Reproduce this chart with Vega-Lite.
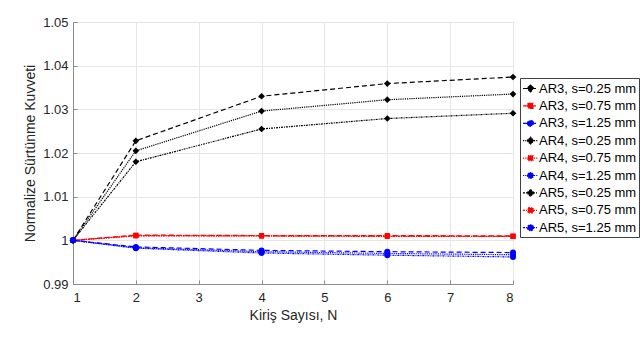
{
  "$schema": "https://vega.github.io/schema/vega-lite/v6.json",
  "width": 440,
  "height": 262,
  "autosize": "none",
  "padding": {"left": 73, "top": 22, "right": 131, "bottom": 54},
  "background": "white",
  "config": {
    "font": "Liberation Sans",
    "view": {"stroke": "#8c8c8c", "strokeWidth": 1},
    "axis": {
      "labelFont": "Liberation Sans",
      "labelFontSize": 13,
      "labelColor": "#262626",
      "titleFont": "Liberation Sans",
      "titleFontSize": 14,
      "titleFontWeight": "normal",
      "titleColor": "#262626",
      "domainColor": "#8c8c8c",
      "tickColor": "#8c8c8c",
      "gridColor": "#e6e6e6",
      "gridWidth": 1,
      "tickSize": -4
    }
  },
  "data": {
    "values": [
      {"series": "AR3, s=0.25 mm", "N": 1, "F": 1.0}, {"series": "AR3, s=0.25 mm", "N": 2, "F": 1.0228}, {"series": "AR3, s=0.25 mm", "N": 4, "F": 1.0330}, {"series": "AR3, s=0.25 mm", "N": 6, "F": 1.0359}, {"series": "AR3, s=0.25 mm", "N": 8, "F": 1.0374},
      {"series": "AR3, s=0.75 mm", "N": 1, "F": 1.0}, {"series": "AR3, s=0.75 mm", "N": 2, "F": 1.0012}, {"series": "AR3, s=0.75 mm", "N": 4, "F": 1.0011}, {"series": "AR3, s=0.75 mm", "N": 6, "F": 1.0011}, {"series": "AR3, s=0.75 mm", "N": 8, "F": 1.0010},
      {"series": "AR3, s=1.25 mm", "N": 1, "F": 1.0}, {"series": "AR3, s=1.25 mm", "N": 2, "F": 0.9985}, {"series": "AR3, s=1.25 mm", "N": 4, "F": 0.9977}, {"series": "AR3, s=1.25 mm", "N": 6, "F": 0.9974}, {"series": "AR3, s=1.25 mm", "N": 8, "F": 0.9972},
      {"series": "AR4, s=0.25 mm", "N": 1, "F": 1.0}, {"series": "AR4, s=0.25 mm", "N": 2, "F": 1.0205}, {"series": "AR4, s=0.25 mm", "N": 4, "F": 1.0296}, {"series": "AR4, s=0.25 mm", "N": 6, "F": 1.0322}, {"series": "AR4, s=0.25 mm", "N": 8, "F": 1.0335},
      {"series": "AR4, s=0.75 mm", "N": 1, "F": 1.0}, {"series": "AR4, s=0.75 mm", "N": 2, "F": 1.0011}, {"series": "AR4, s=0.75 mm", "N": 4, "F": 1.0010}, {"series": "AR4, s=0.75 mm", "N": 6, "F": 1.0010}, {"series": "AR4, s=0.75 mm", "N": 8, "F": 1.0009},
      {"series": "AR4, s=1.25 mm", "N": 1, "F": 1.0}, {"series": "AR4, s=1.25 mm", "N": 2, "F": 0.9983}, {"series": "AR4, s=1.25 mm", "N": 4, "F": 0.9974}, {"series": "AR4, s=1.25 mm", "N": 6, "F": 0.9970}, {"series": "AR4, s=1.25 mm", "N": 8, "F": 0.9967},
      {"series": "AR5, s=0.25 mm", "N": 1, "F": 1.0}, {"series": "AR5, s=0.25 mm", "N": 2, "F": 1.0180}, {"series": "AR5, s=0.25 mm", "N": 4, "F": 1.0255}, {"series": "AR5, s=0.25 mm", "N": 6, "F": 1.0279}, {"series": "AR5, s=0.25 mm", "N": 8, "F": 1.0291},
      {"series": "AR5, s=0.75 mm", "N": 1, "F": 1.0}, {"series": "AR5, s=0.75 mm", "N": 2, "F": 1.0010}, {"series": "AR5, s=0.75 mm", "N": 4, "F": 1.0010}, {"series": "AR5, s=0.75 mm", "N": 6, "F": 1.0009}, {"series": "AR5, s=0.75 mm", "N": 8, "F": 1.0009},
      {"series": "AR5, s=1.25 mm", "N": 1, "F": 1.0}, {"series": "AR5, s=1.25 mm", "N": 2, "F": 0.9982}, {"series": "AR5, s=1.25 mm", "N": 4, "F": 0.9971}, {"series": "AR5, s=1.25 mm", "N": 6, "F": 0.9966}, {"series": "AR5, s=1.25 mm", "N": 8, "F": 0.9962}
    ]
  },
  "encoding": {
    "x": {
      "field": "N", "type": "quantitative",
      "scale": {"domain": [1, 8], "nice": false, "zero": false},
      "axis": {"values": [1, 2, 3, 4, 5, 6, 7, 8], "title": "Kiriş Sayısı, N", "labelPadding": 11, "titlePadding": 4, "grid": true}
    },
    "y": {
      "field": "F", "type": "quantitative",
      "scale": {"domain": [0.99, 1.05], "nice": false, "zero": false},
      "axis": {"values": [0.99, 1.0, 1.01, 1.02, 1.03, 1.04, 1.05], "format": "~g", "title": "Normalize Sürtünme Kuvveti", "labelPadding": 9, "titlePadding": 5, "grid": true}
    },
    "color": {
      "field": "series", "type": "nominal",
      "scale": {
        "domain": ["AR3, s=0.25 mm", "AR3, s=0.75 mm", "AR3, s=1.25 mm", "AR4, s=0.25 mm", "AR4, s=0.75 mm", "AR4, s=1.25 mm", "AR5, s=0.25 mm", "AR5, s=0.75 mm", "AR5, s=1.25 mm"],
        "range": ["#000000", "#ff0000", "#0000ff", "#000000", "#ff0000", "#0000ff", "#000000", "#ff0000", "#0000ff"]
      },
      "legend": {
        "title": null,
        "orient": "none",
        "legendX": 447,
        "legendY": 56,
        "labelFont": "Liberation Sans",
        "labelFontSize": 13,
        "labelColor": "#000000",
        "symbolSize": 225,
        "symbolStrokeWidth": 1.2,
        "rowPadding": 1.4,
        "labelOffset": 0,
        "padding": 2,
        "strokeColor": "#404040",
        "fillColor": "white",
        "encode": {
          "symbols": {
            "update": {
              "shape": {"signal": "indexof(datum.value,'0.25')>=0 ? 'M-1,0H1M0,-0.47L0.47,0L0,0.47L-0.47,0Z' : indexof(datum.value,'0.75')>=0 ? 'M-1,0H1M-0.33,-0.33H0.33V0.33H-0.33Z' : 'M-1,0H1M-0.4,0A0.4,0.4 0 1,0 0.4,0A0.4,0.4 0 1,0 -0.4,0Z'"},
              "fill": {"signal": "indexof(datum.value,'0.25')>=0 ? '#000000' : indexof(datum.value,'0.75')>=0 ? '#ff0000' : '#0000ff'"}
            }
          }
        }
      }
    }
  },
  "layer": [
    {
      "mark": {"type": "line", "strokeWidth": 1.2},
      "encoding": {
        "strokeDash": {
          "field": "series", "type": "nominal",
          "scale": {
            "domain": ["AR3, s=0.25 mm", "AR3, s=0.75 mm", "AR3, s=1.25 mm", "AR4, s=0.25 mm", "AR4, s=0.75 mm", "AR4, s=1.25 mm", "AR5, s=0.25 mm", "AR5, s=0.75 mm", "AR5, s=1.25 mm"],
            "range": [[5, 3], [5, 3], [5, 3], [1.2, 1], [1.2, 1], [1.2, 1], [2, 1, 1, 1], [2, 1, 1, 1], [2, 1, 1, 1]]
          },
          "legend": {"title": null}
        },
        "order": {"field": "N"}
      }
    },
    {
      "transform": [{"filter": "indexof(datum.series,'0.25')>=0"}],
      "mark": {"type": "point", "filled": true, "opacity": 1, "size": 45, "shape": "diamond"}
    },
    {
      "transform": [{"filter": "indexof(datum.series,'0.75')>=0"}],
      "mark": {"type": "point", "filled": true, "opacity": 1, "size": 25, "shape": "square"}
    },
    {
      "transform": [{"filter": "indexof(datum.series,'1.25')>=0"}],
      "mark": {"type": "point", "filled": true, "opacity": 1, "size": 36, "shape": "circle"}
    }
  ]
}
